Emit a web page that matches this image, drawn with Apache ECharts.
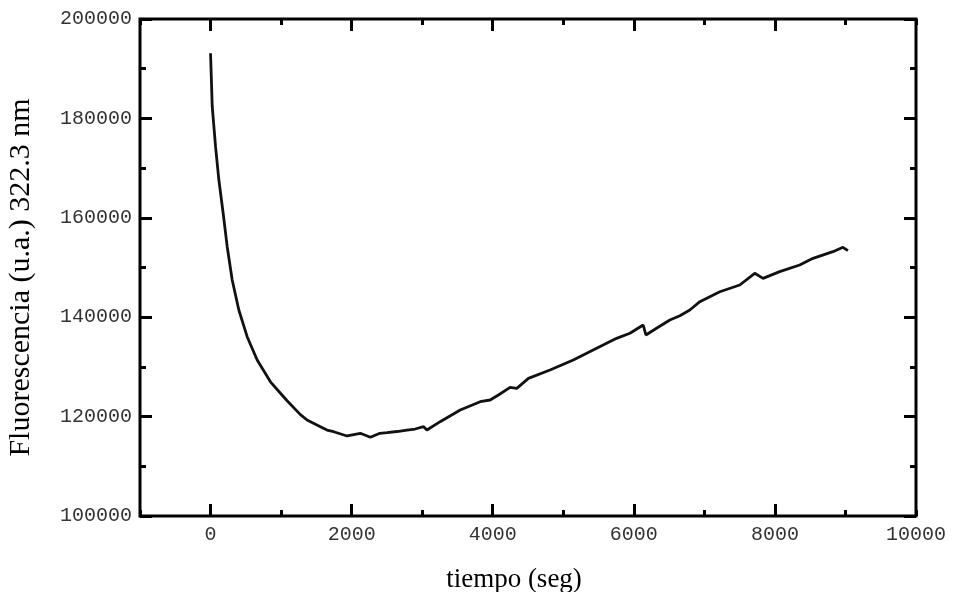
<!DOCTYPE html>
<html>
<head>
<meta charset="utf-8">
<script src="https://cdn.jsdelivr.net/npm/echarts@6/dist/echarts.min.js"></script>
<style>
  html, body { margin: 0; padding: 0; background: #fff; }
  #chart { width: 958px; height: 592px; }
</style>
</head>
<body>
<div id="chart"></div>
<script>
// tiempo (seg)
const tiempo = [0, 24, 71, 118, 179, 236, 307, 401, 519, 661, 849, 991, 1085, 1274, 1368, 1557,
  1651, 1746, 1935, 2123, 2265, 2400, 2501, 2642, 2784, 2900, 3020, 3067, 3255, 3539, 3822,
  3963, 4081, 4246, 4341, 4506, 4812, 5142, 5473, 5756, 5945, 6133, 6171, 6322, 6511, 6653,
  6794, 6936, 7219, 7502, 7714, 7832, 8068, 8351, 8540, 8823, 8964, 9035];
// Fluorescencia (u.a.) 322.3 nm
const fluorescencia = [193100, 182350, 174300, 167600, 160900, 154190, 147490, 141450, 136080, 131390,
  127000, 124690, 123200, 120400, 119320, 117970, 117300, 116960, 116100, 116640, 115830, 116640,
  116760, 117000, 117300, 117500, 117970, 117300, 118980, 121330, 123000, 123340, 124350, 125890,
  125690, 127700, 129380, 131390, 133740, 135750, 136760, 138430, 136420, 137770, 139440, 140300,
  141450, 143120, 145130, 146480, 148830, 147820, 149160, 150500, 151850, 153180, 154060, 153380];

const xLabels = [0, 2000, 4000, 6000, 8000, 10000];
const xMajor = [0, 2000, 4000, 6000, 8000];

let chart = echarts.init(document.getElementById('chart'));

const tickStyle = { color: '#000', width: 3 };

function xAx(position, major) {
  return {
    type: 'value',
    position: position,
    min: -1000,
    max: 10000,
    interval: 1000,
    axisLine: { show: false, onZero: false },
    splitLine: { show: false },
    axisTick: major
      ? { show: true, inside: true, length: 12, lineStyle: tickStyle, customValues: xMajor }
      : { show: true, inside: true, length: 6, lineStyle: tickStyle },
    axisLabel: { show: false }
  };
}

function yAx(position) {
  return {
    type: 'value',
    position: position,
    min: 100000,
    max: 200000,
    interval: 20000,
    axisLine: { show: false, onZero: false },
    splitLine: { show: false },
    axisTick: { show: true, inside: true, length: 12, lineStyle: tickStyle },
    minorTick: { show: true, splitNumber: 2, length: 6, lineStyle: tickStyle },
    axisLabel: { show: false }
  };
}

const labelStyle = {
  show: true,
  margin: 8,
  color: '#333',
  fontFamily: 'Liberation Mono',
  fontSize: 20,
  formatter: v => String(v)
};

let xBottom = xAx('bottom', true);
xBottom.axisLabel = Object.assign({ customValues: xLabels }, labelStyle, { margin: 9 });
xBottom.name = 'tiempo (seg)';
xBottom.nameLocation = 'middle';
xBottom.nameGap = 50;
xBottom.nameTextStyle = {
  fontFamily: 'Liberation Serif',
  fontSize: 27,
  color: '#000',
  padding: [0, 28, 0, 0]
};

let yLeft = yAx('left');
yLeft.axisLabel = labelStyle;
yLeft.name = 'Fluorescencia (u.a.) 322.3 nm';
yLeft.nameLocation = 'middle';
yLeft.nameGap = 104;
yLeft.nameTextStyle = {
  fontFamily: 'Liberation Serif',
  fontSize: 30,
  color: '#000',
  padding: [0, 20, 0, 0]
};

let option = {
  animation: false,
  grid: {
    left: 140,
    right: 42,
    top: 19,
    bottom: 76,
    outerBoundsMode: 'none',
    containLabel: false,
    show: true,
    borderColor: '#000',
    borderWidth: 3
  },
  xAxis: [xBottom, xAx('bottom', false), xAx('top', true), xAx('top', false)],
  yAxis: [yLeft, yAx('right')],
  series: [
    {
      type: 'line',
      xAxisIndex: 0,
      yAxisIndex: 0,
      showSymbol: false,
      symbol: 'none',
      lineStyle: { color: '#111', width: 2.8 },
      data: tiempo.map((t, i) => [t, fluorescencia[i]])
    }
  ]
};

chart.setOption(option);
</script>
</body>
</html>
